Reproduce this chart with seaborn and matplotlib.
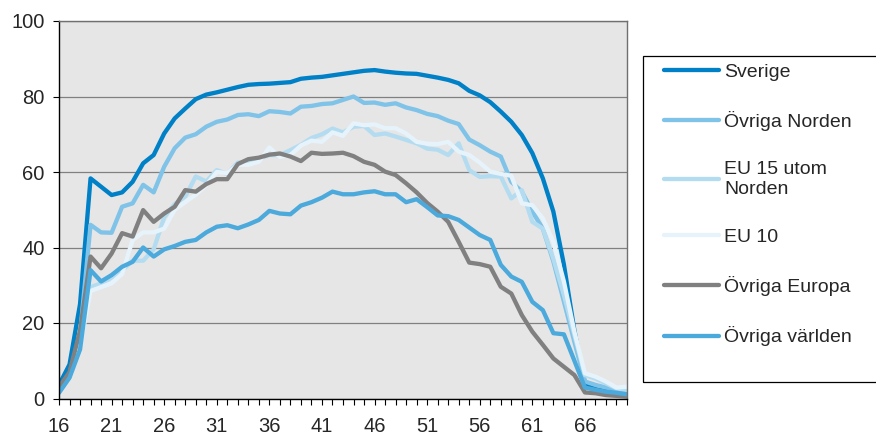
import matplotlib.pyplot as plt
import pandas as pd
import seaborn as sns
from matplotlib.patches import Rectangle

# Andel sysselsatta efter ålder och födelseregion
ages = list(range(16, 71))

sverige = [3.6, 9, 25, 58.3, 56.1, 53.9, 54.6, 57.4, 62.3, 64.5,
           70.2, 74.2, 76.8, 79.3, 80.5, 81.1, 81.8, 82.5, 83.1, 83.3,
           83.4, 83.6, 83.8, 84.7, 85.0, 85.2, 85.6, 86.0, 86.4, 86.8,
           87.0, 86.6, 86.3, 86.1, 86.0, 85.5, 85.0, 84.4, 83.5, 81.5,
           80.3, 78.5, 76.0, 73.3, 69.8, 65.0, 58.3, 49.5, 35.5, 18.0,
           4.0, 2.5, 2.0, 1.5, 1.0]

ovriga_norden = [2.7, 6.5, 17, 46.0, 44.0, 43.9, 50.8, 51.7, 56.6, 54.6,
                 61.4, 66.3, 69.1, 70.0, 72.0, 73.3, 73.9, 75.1, 75.3, 74.8,
                 76.1, 75.9, 75.5, 77.3, 77.5, 78.0, 78.2, 79.1, 80.0, 78.3,
                 78.4, 77.8, 78.2, 77.1, 76.4, 75.4, 74.8, 73.6, 72.7, 68.6,
                 67.1, 65.4, 64.1, 57.4, 54.8, 49.5, 45.0, 36.3, 25.7, 15.0,
                 4.5, 3.6, 2.9, 2.3, 1.8]

eu15 = [2.0, 6.0, 14, 29.5, 30.5, 32.0, 34.0, 36.5, 36.5, 39.5,
        48.0, 51.5, 53.5, 58.8, 57.5, 60.5, 59.5, 62.5, 62.7, 63.6,
        64.5, 64.5, 65.8, 67.2, 69.0, 70.0, 71.5, 70.5, 72.0, 72.2,
        69.8, 70.2, 69.4, 68.5, 67.6, 66.2, 65.9, 64.5, 67.6, 60.5,
        58.7, 58.9, 58.8, 53.0, 55.2, 46.8, 45.0, 37.0, 27.4, 16.8,
        6.2, 5.3, 4.0, 2.7, 2.3]

eu10 = [2.0, 5.5, 14, 28.5, 29.5, 30.5, 33.0, 42.0, 44.0, 44.0,
        45.0, 50.0, 52.0, 54.0, 56.5, 60.0, 59.7, 61.9, 61.9, 62.7,
        66.5, 64.0, 64.5, 67.0, 68.3, 68.0, 70.5, 69.6, 72.9, 72.4,
        72.6, 71.6, 71.6, 70.2, 68.0, 67.5, 67.4, 68.0, 65.4, 64.5,
        62.5, 60.1, 59.5, 59.0, 51.7, 51.2, 47.7, 41.5, 31.0, 17.7,
        6.7, 5.8, 4.5, 2.9, 3.1]

ovriga_europa = [3.0, 7.0, 18, 37.6, 34.5, 38.4, 43.8, 42.9, 49.9, 46.8,
                 49.0, 50.8, 55.2, 54.8, 56.8, 58.1, 58.1, 62.1, 63.4, 63.8,
                 64.6, 64.9, 64.1, 62.9, 65.1, 64.8, 64.9, 65.1, 64.2, 62.7,
                 61.9, 60.1, 59.2, 57.0, 54.6, 51.8, 49.5, 46.8, 41.5, 36.0,
                 35.6, 34.9, 29.6, 27.8, 22.1, 17.7, 14.2, 10.6, 8.4, 6.2,
                 1.6, 1.4, 0.9, 0.7, 0.5]

ovriga_varlden = [1.5, 5.5, 13, 34.0, 31.0, 32.7, 34.9, 36.2, 40.0, 37.6,
                  39.5, 40.4, 41.5, 42.0, 44.0, 45.5, 45.9, 45.1, 46.1, 47.3,
                  49.7, 49.0, 48.8, 51.1, 52.0, 53.2, 54.8, 54.1, 54.1, 54.6,
                  54.9, 54.1, 54.1, 52.0, 52.8, 50.7, 48.5, 48.3, 47.3, 45.3,
                  43.3, 42.0, 35.4, 32.3, 30.9, 25.6, 23.4, 17.3, 17.0, 10.0,
                  2.9, 2.3, 1.8, 1.5, 1.1]

groups = ["Sverige", "Övriga Norden", "EU 15 utom\nNorden", "EU 10",
          "Övriga Europa", "Övriga världen"]
series = [sverige, ovriga_norden, eu15, eu10, ovriga_europa, ovriga_varlden]
colors = ["#0080C6", "#80C3E8", "#B4DCF1", "#E6F3FB", "#808080", "#4BA9DC"]

frames = [pd.DataFrame({"Ålder": ages, "Andel": vals, "Grupp": name})
          for name, vals in zip(groups, series)]
df = pd.concat(frames, ignore_index=True)

sns.set_style("white")
plt.rcParams["font.family"] = ["Liberation Sans", "DejaVu Sans"]

fig = plt.figure(figsize=(8.76, 4.37), dpi=100)
ax = fig.add_axes([59 / 876, 1 - 398.5 / 437, (627 - 59) / 876, (398.5 - 21) / 437])

sns.lineplot(data=df, x="Ålder", y="Andel", hue="Grupp", hue_order=groups,
             palette=dict(zip(groups, colors)), linewidth=3.1, sort=False,
             ax=ax)

ax.set_facecolor("#E6E6E6")
ax.set_xlim(16, 70)
ax.set_ylim(0, 100)
ax.set_xlabel("")
ax.set_ylabel("")

ax.set_yticks(range(0, 101, 20))
ax.set_xticks(ages)
ax.set_xticklabels([str(a) if (a - 16) % 5 == 0 else "" for a in ages])
ax.tick_params(axis="both", direction="out", length=4.3, width=0.8,
               color="black", labelsize=14.5)
ax.tick_params(axis="y", left=True, pad=6)
ax.tick_params(axis="x", bottom=True, pad=9)

ax.yaxis.grid(True, color="#808080", linewidth=0.9)
ax.set_axisbelow(True)

for side in ["left", "bottom"]:
    ax.spines[side].set_color("black")
    ax.spines[side].set_linewidth(1.0)
for side in ["top", "right"]:
    ax.spines[side].set_color("#707070")
    ax.spines[side].set_linewidth(1.0)

handles, labels = ax.get_legend_handles_labels()
ax.get_legend().remove()
leg = fig.legend(handles, labels, loc="upper left",
                 bbox_to_anchor=(664 / 876, 1 - 63 / 437),
                 frameon=False, fontsize=14, handlelength=2.85,
                 handletextpad=0.26, labelspacing=1.56, borderpad=0,
                 borderaxespad=0)
for line in leg.get_lines():
    line.set_linewidth(3.1)

fig.patches.append(Rectangle((643 / 876, 1 - 382 / 437), 0.3, (382 - 56) / 437,
                             transform=fig.transFigure, fill=False,
                             edgecolor="black", linewidth=0.9))

fig.savefig("out.png", dpi=100)
